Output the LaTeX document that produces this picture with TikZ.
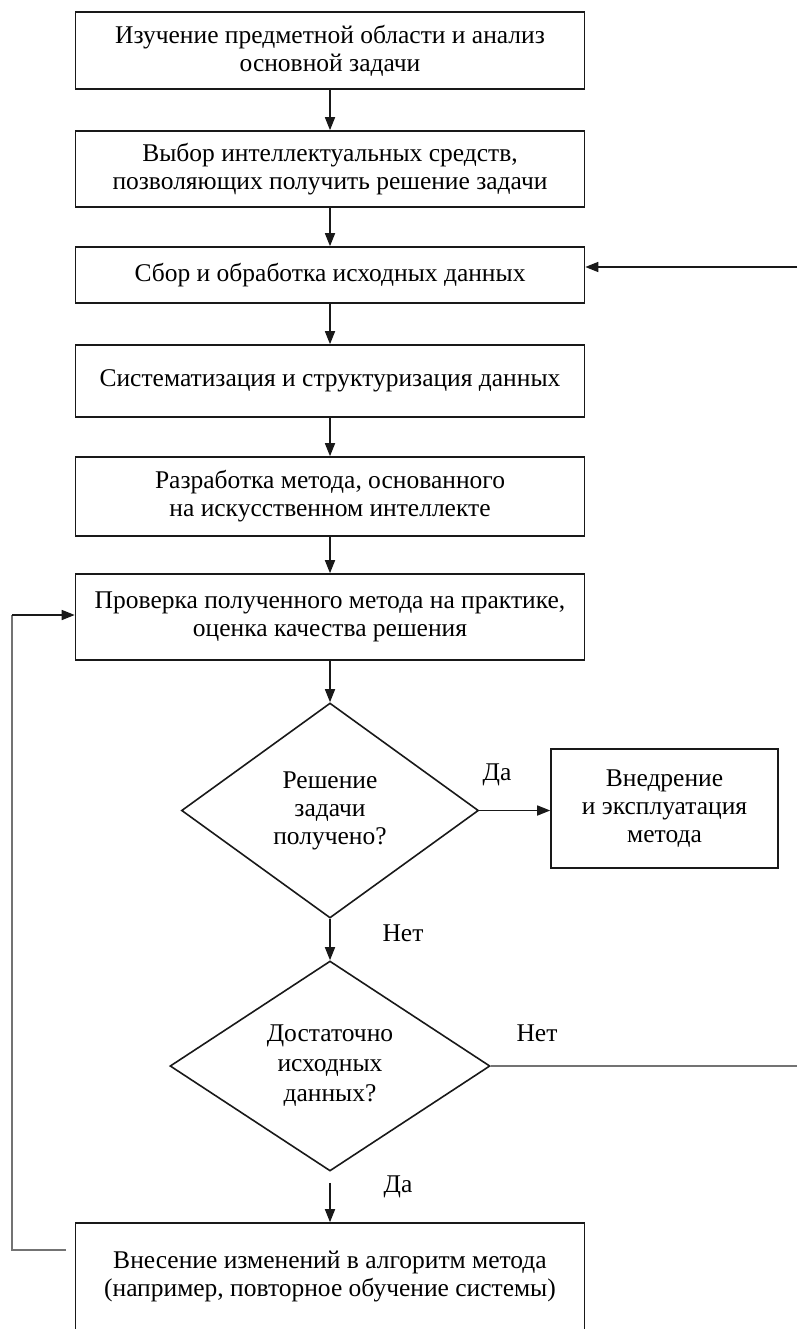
\documentclass[tikz,border=0pt]{standalone}
\usepackage{fontspec}
\setmainfont{Liberation Serif}
\usetikzlibrary{shapes.geometric,arrows.meta,calc}
\begin{document}
\begin{tikzpicture}[x=1pt,y=-1pt,
  txt/.style={font=\fontsize{25.5}{28}\selectfont, align=center},
  box/.style={txt, draw=black!90, line width=1.6pt, minimum width=509pt, inner sep=0pt},
  dia/.style={txt, draw=black!90, line width=1.6pt, diamond, inner sep=0pt},
  arr/.style={-{Triangle[length=13pt,width=10pt]}, line width=1.6pt, draw=black!90},
  lbl/.style={font=\fontsize{25.5}{28}\selectfont},
  grey/.style={draw=black!55, line width=2.4pt}
]
\useasboundingbox (0,0) rectangle (797,1329);

\node[box, minimum height=77pt] (b1) at (330,50.5) {Изучение предметной области и анализ\\основной задачи};
\node[box, minimum height=76pt] (b2) at (330,169) {Выбор интеллектуальных средств,\\позволяющих получить решение задачи};
\node[box, minimum height=56pt] (b3) at (330,275) {Сбор и обработка исходных данных};
\node[box, minimum height=72pt] (b4) at (330,381) {Систематизация и структуризация данных};
\node[box, minimum height=79pt] (b5) at (330,496.5) {Разработка метода, основанного\\на искусственном интеллекте};
\node[box, minimum height=86pt] (b6) at (330,617) {Проверка полученного метода на практике,\\оценка качества решения};
\node[dia, minimum width=297pt, minimum height=215pt] (d1) at (330,810.5) {Решение\\задачи\\получено?};
\node[box, minimum width=227pt, minimum height=119pt] (b8) at (664.5,808.5) {Внедрение\\и эксплуатация\\метода};
\node[dia, minimum width=320pt, minimum height=210pt, font=\fontsize{25.5}{30}\selectfont] (d2) at (330,1066) {Достаточно\\исходных\\данных?};
\node[box, minimum height=108pt] (b7) at (330,1277) {Внесение изменений в алгоритм метода\\(например, повторное обучение системы)};

\node[lbl] (l1) at (497,775) {Да};
\node[lbl] (l2) at (403,933) {Нет};
\node[lbl] (l3) at (537,1033) {Нет};
\node[lbl] (l4) at (398,1187) {Да};

\draw[arr] (b1) -- (b2);
\draw[arr] (b2) -- (b3);
\draw[arr] (b3) -- (b4);
\draw[arr] (b4) -- (b5);
\draw[arr] (b5) -- (b6);
\draw[arr] (b6) -- (d1);
\draw[arr] (d1) -- (d2);
\draw[arr] (d1.east) -- (b8.west |- d1.east);

\coordinate (r3) at (797,267);
\draw[arr] (r3) -- (r3 -| b3.east);

\coordinate (r2x) at (797,0);
\draw[grey] (d2.east) -- (d2.east -| r2x);

\coordinate (s2) at ($(d2.south)+(0,11)$);
\draw[arr] (s2) -- (s2 |- b7.north);

\coordinate (c1) at (66,1250);
\coordinate (c2) at (12,1250);
\coordinate (c3) at (12,615);
\draw[grey] (c1) -- (c2) -- (c3);
\draw[arr] (c3) -- (c3 -| b6.west);
\end{tikzpicture}
\end{document}
